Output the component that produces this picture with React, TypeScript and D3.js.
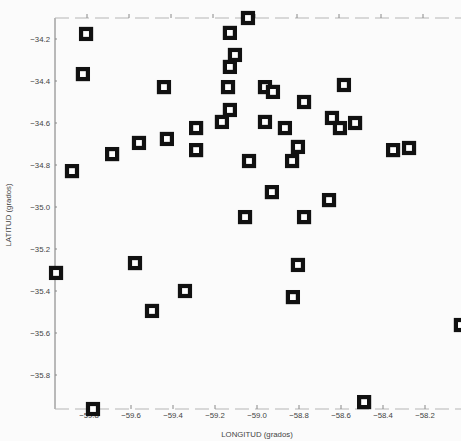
import React, { useEffect, useRef } from 'react';
import * as d3 from 'd3';

// sampling stations, longitude / latitude in degrees
const longitudes = [
  -59.814, -59.829, -59.881, -59.690, -59.562, -59.429, -59.443, -59.290, -59.290, -59.167,
  -59.129, -59.138, -59.129, -59.105, -59.129, -59.043, -58.962, -58.924, -58.962, -59.038,
  -58.867, -58.776, -58.805, -58.833, -58.643, -58.605, -58.533, -58.586, -58.352, -58.276,
  -58.929, -58.657, -59.057, -58.776, -58.805, -58.829, -59.343, -59.500, -59.581, -59.957,
  -59.781, -58.490, -58.029
];
const latitudes = [
  -34.176, -34.367, -34.829, -34.748, -34.695, -34.676, -34.429, -34.624, -34.729, -34.595,
  -34.538, -34.429, -34.333, -34.276, -34.171, -34.100, -34.429, -34.452, -34.595, -34.781,
  -34.624, -34.500, -34.714, -34.781, -34.576, -34.624, -34.600, -34.419, -34.729, -34.719,
  -34.929, -34.967, -35.048, -35.048, -35.276, -35.429, -35.400, -35.495, -35.267, -35.314,
  -35.962, -35.929, -35.562
];
const xTicks = [-59.8, -59.6, -59.4, -59.2, -59.0, -58.8, -58.6, -58.4, -58.2];
const yTicks = [-34.2, -34.4, -34.6, -34.8, -35.0, -35.2, -35.4, -35.6, -35.8];

const W = 461;
const H = 441;

export default function App() {
  const ref = useRef<SVGSVGElement>(null);

  useEffect(() => {
    const svg = d3.select(ref.current);
    svg.selectAll('*').remove();

    const left = 55, top = 18, bottom = 409;
    const x = d3.scaleLinear().domain([-60, -58]).range([47, 467]);
    const y = d3.scaleLinear().domain([-34, -36]).range([-3, 417]);

    svg.append('rect').attr('width', W).attr('height', H).attr('fill', '#fbfbfb');

    // frame: solid left, dashed top/bottom (scanned look)
    svg.append('line')
      .attr('x1', left).attr('x2', left).attr('y1', top).attr('y2', bottom)
      .attr('stroke', '#777').attr('stroke-width', 1);
    [top, bottom].forEach((yy) => {
      svg.append('line')
        .attr('x1', left).attr('x2', W).attr('y1', yy).attr('y2', yy)
        .attr('stroke', '#b5b5b5').attr('stroke-width', 1)
        .attr('stroke-dasharray', '14,6');
    });

    const font = 'Arial, "Liberation Sans", sans-serif';

    // x ticks + labels
    const xg = svg.append('g');
    xTicks.forEach((t) => {
      xg.append('line')
        .attr('x1', x(t)).attr('x2', x(t)).attr('y1', bottom - 4).attr('y2', bottom)
        .attr('stroke', '#888');
      xg.append('line')
        .attr('x1', x(t) - 2).attr('x2', x(t) - 2).attr('y1', top).attr('y2', top - 4)
        .attr('stroke', '#888');
      xg.append('text')
        .attr('x', x(t)).attr('y', bottom + 9)
        .attr('text-anchor', 'middle')
        .attr('font-family', font).attr('font-size', 7.8).attr('fill', '#444')
        .text(d3.format('.1f')(t));
    });

    // y ticks + labels
    const yg = svg.append('g');
    yTicks.forEach((t) => {
      yg.append('line')
        .attr('x1', left).attr('x2', left + 2).attr('y1', y(t)).attr('y2', y(t))
        .attr('stroke', '#888');
      yg.append('text')
        .attr('x', left - 5).attr('y', y(t) + 3)
        .attr('text-anchor', 'end')
        .attr('font-family', font).attr('font-size', 7.8).attr('fill', '#444')
        .text(d3.format('.1f')(t));
    });

    // axis titles
    svg.append('text')
      .attr('x', 257).attr('y', 437)
      .attr('text-anchor', 'middle')
      .attr('font-family', font).attr('font-size', 7.8).attr('fill', '#444')
      .text('LONGITUD (grados)');
    svg.append('text')
      .attr('transform', 'translate(11,215) rotate(-90)')
      .attr('text-anchor', 'middle')
      .attr('font-family', font).attr('font-size', 7.8).attr('fill', '#444')
      .text('LATITUD (grados)');

    // points: hollow squares
    const pts = longitudes.map((lon, i) => ({ lon, lat: latitudes[i] }));
    const s = 10;
    svg.append('g').selectAll('rect')
      .data(pts)
      .enter().append('rect')
      .attr('x', (d) => x(d.lon) - s / 2)
      .attr('y', (d) => y(d.lat) - s / 2)
      .attr('width', s).attr('height', s)
      .attr('fill', '#fff')
      .attr('stroke', '#111')
      .attr('stroke-width', 4.2);
  }, []);

  return (
    <svg ref={ref} width={W} height={H}
      style={{ position: 'absolute', left: 0, top: 0, display: 'block' }} />
  );
}
